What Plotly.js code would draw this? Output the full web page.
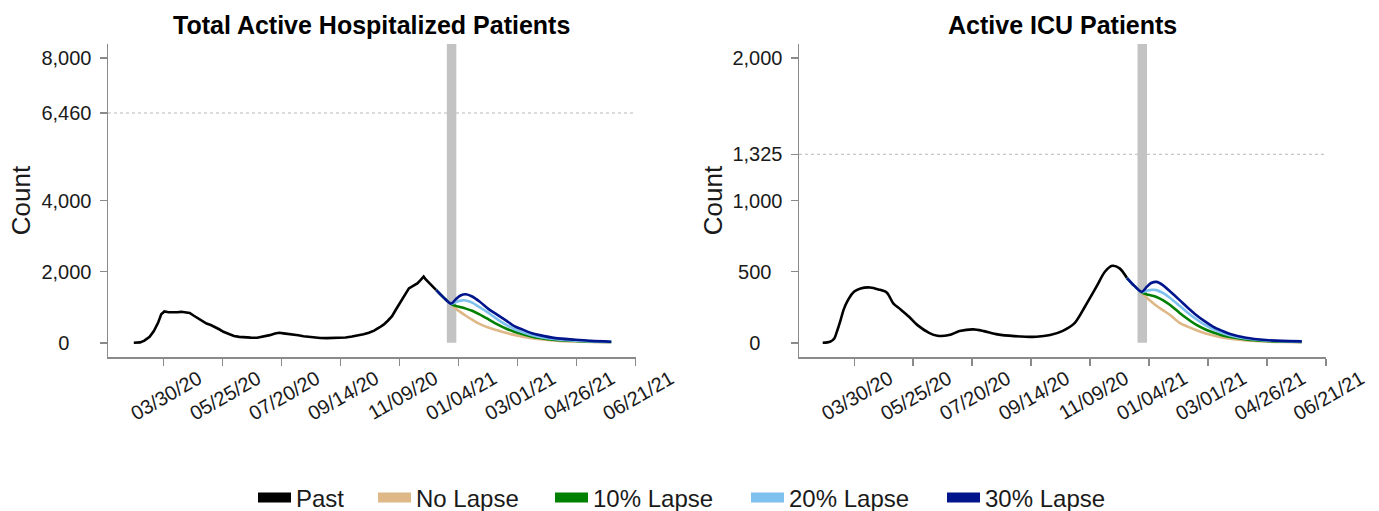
<!DOCTYPE html>
<html>
<head>
<meta charset="utf-8">
<script src="https://cdn.plot.ly/plotly-3.0.1.min.js"></script>
<style>
html,body{margin:0;padding:0;background:#ffffff;}
#chart{width:1379px;height:511px;}
</style>
</head>
<body>
<div id="chart"></div>
<script>
// ---------------- DATA ----------------
const chartTitles = ['Total Active Hospitalized Patients', 'Active ICU Patients'];
const yTitle = 'Count';
const seriesNames = ['Past', 'No Lapse', '10% Lapse', '20% Lapse', '30% Lapse'];
const seriesColors = ['#000000', '#deb887', '#008000', '#7ec0ee', '#00148c'];

const xTickDates = ['2020-03-30','2020-05-25','2020-07-20','2020-09-14','2020-11-09','2021-01-04','2021-03-01','2021-04-26','2021-06-21'];
const xTickLabels = ['03/30/20','05/25/20','07/20/20','09/14/20','11/09/20','01/04/21','03/01/21','04/26/21','06/21/21'];
const xRange = ['2020-02-06 12:00', '2021-06-21'];

const hospTickVals = [0, 2000, 4000, 6460, 8000];
const icuTickVals = [0, 500, 1000, 1325, 2000];
const hospRange = [-400, 8400];
const icuRange = [-100, 2100];
const capacity = [6460, 1325];
const projectionBand = ['2020-12-24', '2021-01-02'];

const hospPastDates = ['2020-03-02','2020-03-08','2020-03-12','2020-03-17','2020-03-21','2020-03-25','2020-03-28','2020-03-31','2020-04-04','2020-04-08','2020-04-12','2020-04-16','2020-04-20','2020-04-24','2020-04-28','2020-05-02','2020-05-06','2020-05-10','2020-05-14','2020-05-18','2020-05-22','2020-05-26','2020-05-31','2020-06-05','2020-06-10','2020-06-15','2020-06-21','2020-06-27','2020-07-03','2020-07-09','2020-07-14','2020-07-18','2020-07-22','2020-07-26','2020-07-31','2020-08-05','2020-08-10','2020-08-15','2020-08-20','2020-08-26','2020-09-01','2020-09-07','2020-09-13','2020-09-19','2020-09-25','2020-10-01','2020-10-06','2020-10-11','2020-10-16','2020-10-21','2020-10-25','2020-10-29','2020-11-02','2020-11-06','2020-11-10','2020-11-14','2020-11-18','2020-11-22','2020-11-26','2020-11-29','2020-12-02','2020-12-04','2020-12-07','2020-12-10','2020-12-14'];
const hospPastValues = [0,10,60,170,330,560,800,880,860,850,860,870,860,840,760,680,610,540,500,450,380,310,240,190,165,150,145,140,170,215,260,280,265,255,230,210,185,165,150,135,130,135,140,150,175,200,240,280,340,430,510,620,750,950,1150,1350,1530,1600,1670,1760,1860,1780,1700,1600,1480];

const icuPastDates = ['2020-02-29','2020-03-07','2020-03-11','2020-03-14','2020-03-17','2020-03-20','2020-03-24','2020-03-30','2020-04-05','2020-04-14','2020-04-22','2020-04-30','2020-05-06','2020-05-13','2020-05-21','2020-05-29','2020-06-09','2020-06-17','2020-06-28','2020-07-08','2020-07-21','2020-07-31','2020-08-13','2020-08-29','2020-09-19','2020-10-02','2020-10-14','2020-10-25','2020-11-04','2020-11-15','2020-11-23','2020-11-30','2020-12-07','2020-12-14'];
const icuPastValues = [0,7,30,90,160,235,300,360,382,389,375,352,277,234,183,124,70,49,54,82,94,82,59,47,42,54,84,136,253,394,499,541,523,455];

const forecastDates = ['2020-12-14','2020-12-21','2020-12-28','2021-01-02','2021-01-06','2021-01-11','2021-01-17','2021-01-24','2021-02-02','2021-02-10','2021-02-18','2021-02-26','2021-03-06','2021-03-14','2021-03-22','2021-04-06','2021-04-25','2021-05-10','2021-05-29'];

const hospNoLapse  = [1480,1270,1090,950,860,760,650,530,420,350,280,222,170,130,100,60,35,22,14];
const hosp10Lapse  = [1480,1270,1095,1030,1000,960,900,800,650,515,400,310,240,180,135,80,48,32,20];
const hosp20Lapse  = [1480,1270,1100,1150,1185,1190,1130,1000,830,660,510,385,295,220,165,100,60,40,24];
const hosp30Lapse  = [1480,1270,1100,1240,1330,1365,1300,1160,940,786,630,470,370,275,215,130,85,52,30];

const icuNoLapse   = [455,400,352,315,290,260,230,195,140,112,88,67,51,38,28,17,9,6,4];
const icu10Lapse   = [455,400,354,340,333,322,300,265,210,165,125,95,72,53,40,24,13,9,6];
const icu20Lapse   = [455,400,356,366,372,370,350,315,260,210,165,125,95,70,52,30,16,11,8];
const icu30Lapse   = [455,400,358,395,420,428,405,360,300,245,194,150,112,85,61,35,19,13,10];

// ---------------- STYLE ----------------
const FONT = '"Liberation Sans", Arial, Helvetica, sans-serif';
const TEXT = '#1a1a1a';
const AXIS = '#8a8a8a';
const W = 1379;

function fmt(v){ return v.toLocaleString('en-US'); }
// centre the y tick labels (non-breaking spaces pad shorter labels on the right)
function centredLabels(vals){
  const labs = vals.map(fmt);
  const maxLen = Math.max(...labs.map(s => s.length));
  return labs.map(s => s + '\u00a0'.repeat(Math.round((maxLen - s.length) * 0.9)));
}

function lineTrace(x, y, color, xa, ya, shape){
  return {x: x, y: y, type: 'scatter', mode: 'lines', xaxis: xa, yaxis: ya,
    line: {color: color, width: 2.6, shape: shape || 'linear', smoothing: 0.8},
    showlegend: false, hoverinfo: 'skip'};
}

const traces = [];
traces.push(lineTrace(hospPastDates, hospPastValues, seriesColors[0], 'x', 'y'));
[hospNoLapse, hosp10Lapse, hosp20Lapse, hosp30Lapse].forEach((s, i) => {
  traces.push(lineTrace(forecastDates, s, seriesColors[i+1], 'x', 'y', 'spline'));
});
traces.push(lineTrace(icuPastDates, icuPastValues, seriesColors[0], 'x2', 'y2', 'spline'));
[icuNoLapse, icu10Lapse, icu20Lapse, icu30Lapse].forEach((s, i) => {
  traces.push(lineTrace(forecastDates, s, seriesColors[i+1], 'x2', 'y2', 'spline'));
});

// legend entries: one legend per entry so that spacing can follow the original
const legendIds = ['legend', 'legend2', 'legend3', 'legend4', 'legend5'];
const legendKeyLeft = [258, 378, 555, 751, 947]; // px, left edge of each colour key
seriesNames.forEach((n, i) => {
  traces.push({x: [null], y: [null], type: 'scatter', mode: 'lines', name: n,
    legend: legendIds[i], xaxis: 'x', yaxis: 'y',
    line: {color: seriesColors[i], width: 16}, hoverinfo: 'skip'});
});

function xAxis(domain, anchor){
  return {type: 'date', domain: domain, anchor: anchor, range: xRange,
    tickmode: 'array', tickvals: xTickDates, ticktext: xTickLabels, tickangle: -30,
    ticks: 'outside', ticklen: 7, tickwidth: 1.5, tickcolor: AXIS,
    showline: true, linecolor: AXIS, linewidth: 1.5, showgrid: false, zeroline: false,
    tickfont: {family: FONT, size: 20, color: TEXT}, ticklabelshift: 35, ticklabelstandoff: -6,
    automargin: false, fixedrange: true};
}
function yAxis(anchor, range, vals, standoff){
  return {domain: [0, 1], anchor: anchor, range: range,
    tickmode: 'array', tickvals: vals, ticktext: centredLabels(vals),
    ticks: 'outside', ticklen: 7, tickwidth: 1.5, tickcolor: AXIS,
    showline: true, linecolor: AXIS, linewidth: 1.5, showgrid: false, zeroline: false,
    tickfont: {family: FONT, size: 20, color: TEXT}, ticklabelstandoff: 4,
    title: {text: yTitle, font: {family: FONT, size: 26, color: TEXT}, standoff: standoff},
    automargin: false, fixedrange: true};
}

const leftDomain = [108 / W, 635.5 / W];
const rightDomain = [799 / W, 1326 / W];

const shapes = [];
[['x', 'y', hospRange, capacity[0]], ['x2', 'y2', icuRange, capacity[1]]].forEach(([xa, ya, rng, cap]) => {
  shapes.push({type: 'rect', xref: xa, yref: ya, x0: projectionBand[0], x1: projectionBand[1],
    y0: 0, y1: rng[1], fillcolor: '#c3c3c3', line: {width: 0}, layer: 'below'});
  shapes.push({type: 'line', xref: xa + ' domain', yref: ya, x0: 0, x1: 1, y0: cap, y1: cap,
    line: {color: '#b8b8b8', width: 1.2, dash: '3px,3px'}, layer: 'below'});
});

const annotations = chartTitles.map((t, i) => ({
  text: '<b>' + t + '</b>', xref: (i === 0 ? 'x' : 'x2') + ' domain', yref: 'paper',
  x: 0.5, y: 1, xanchor: 'center', yanchor: 'bottom', yshift: 3, showarrow: false,
  font: {family: FONT, size: 25, color: '#000000'}
}));

const layout = {
  width: 1379, height: 511,
  margin: {l: 0, r: 0, t: 44, b: 154, pad: 0, autoexpand: false},
  paper_bgcolor: '#ffffff', plot_bgcolor: '#ffffff',
  font: {family: FONT, color: TEXT},
  xaxis: xAxis(leftDomain, 'y'),
  yaxis: yAxis('x', hospRange, hospTickVals, 3),
  xaxis2: xAxis(rightDomain, 'y2'),
  yaxis2: yAxis('x2', icuRange, icuTickVals, 2),
  shapes: shapes,
  annotations: annotations,
  showlegend: true,
  hovermode: false
};
legendIds.forEach((id, i) => {
  layout[id] = {orientation: 'h', x: (legendKeyLeft[i] - 5) / W, xanchor: 'left',
    y: -0.45, yanchor: 'middle', font: {family: FONT, size: 24, color: TEXT},
    bgcolor: 'rgba(0,0,0,0)', itemwidth: 33};
});

Plotly.newPlot('chart', traces, layout, {displayModeBar: false, staticPlot: true});
</script>
</body>
</html>
